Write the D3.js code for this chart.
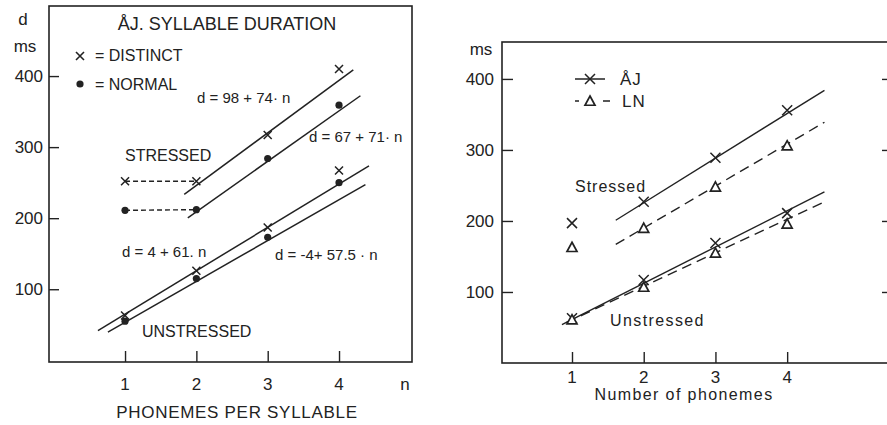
<!DOCTYPE html>
<html>
<head>
<meta charset="utf-8">
<script src="https://cdn.jsdelivr.net/npm/d3@7/dist/d3.min.js"></script>
<style>
  html, body { margin: 0; padding: 0; background: #fff; }
  svg { display: block; }
  text { font-family: "Liberation Sans", Arial, sans-serif; fill: #222; }
</style>
</head>
<body>
<svg id="chart" width="887" height="425"></svg>
<script>
// ---------- Left panel: ÅJ syllable duration ----------
const phonemes = [1, 2, 3, 4];
const yTicks = [100, 200, 300, 400];

// Distinct (×) and normal (●) speech, stressed and unstressed syllables
const distinctStressed   = [252, 252, 317, 410];
const normalStressed     = [211, 212, 284, 359];
const distinctUnstressed = [63, 126, 187, 267];
const normalUnstressed   = [55, 115, 173, 250];

// Fitted lines d = a + b·n and the n-range each one is drawn over
const fitLabels = ["d = 98 + 74· n", "d = 67 + 71· n", "d = 4 + 61. n", "d = -4+ 57.5 · n"];
const fitIntercepts = [98, 67, 4, -4];
const fitSlopes = [74, 71, 61, 57.5];
const fitStart = [1.83, 1.88, 0.62, 0.76];
const fitEnd = [4.2, 4.3, 4.42, 4.37];

// ---------- Right panel: ÅJ vs LN ----------
const ajStressed   = [197, 227, 289, 356];
const lnStressed   = [163, 190, 248, 306];
const ajUnstressed = [63, 117, 169, 211];
const lnUnstressed = [61, 107, 155, 196];

// Trend lines as [n0, d0, n1, d1]
const ajStressedLine   = [1.61, 201, 4.52, 384];
const lnStressedLine   = [1.61, 167, 4.52, 339];
const ajUnstressedLine = [0.86, 54, 4.52, 241];
const lnUnstressedLine = [0.92, 57, 4.52, 227];

const svg = d3.select("#chart");
const ink = "#222";

// ---------- Left panel ----------
const xL = d3.scaleLinear().domain([-0.066, 5.023]).range([49, 412]);
const yL = d3.scaleLinear().domain([-2.4, 498.6]).range([362, 6]);
const L = svg.append("g");

L.append("rect")
  .attr("x", xL.range()[0]).attr("y", yL.range()[1])
  .attr("width", xL.range()[1] - xL.range()[0])
  .attr("height", yL.range()[0] - yL.range()[1])
  .attr("fill", "none").attr("stroke", ink).attr("stroke-width", 1.6);

// y ticks (inward) and labels
const yAxisL = d3.axisRight(yL).tickValues(yTicks).tickSize(10).tickFormat("");
L.append("g").attr("transform", `translate(${xL.range()[0]},0)`).call(yAxisL)
  .call(g => g.select(".domain").remove())
  .call(g => g.selectAll("line").attr("stroke", ink).attr("stroke-width", 1.4));
L.selectAll(".ylab").data(yTicks).join("text")
  .attr("x", 43).attr("y", d => yL(d) + 6)
  .attr("text-anchor", "end").attr("font-size", 17).text(d => d);

// x ticks (inward) and labels
const xAxisL = d3.axisTop(xL).tickValues(phonemes).tickSize(11).tickFormat("");
L.append("g").attr("transform", `translate(0,${yL.range()[0]})`).call(xAxisL)
  .call(g => g.select(".domain").remove())
  .call(g => g.selectAll("line").attr("stroke", ink).attr("stroke-width", 1.4));
L.selectAll(".xlab").data(phonemes).join("text")
  .attr("x", d => xL(d)).attr("y", 390)
  .attr("text-anchor", "middle").attr("font-size", 17).text(d => d);
L.append("text").attr("x", 405).attr("y", 390).attr("text-anchor", "middle")
  .attr("font-size", 17).text("n");
L.append("text").attr("x", 237).attr("y", 418).attr("text-anchor", "middle")
  .attr("font-size", 17).attr("letter-spacing", 0.7).text("PHONEMES PER SYLLABLE");

L.append("text").attr("x", 23).attr("y", 25).attr("text-anchor", "middle")
  .attr("font-size", 17).text("d");
L.append("text").attr("x", 25).attr("y", 52).attr("text-anchor", "middle")
  .attr("font-size", 17).text("ms");
L.append("text").attr("x", 227).attr("y", 30).attr("text-anchor", "middle")
  .attr("font-size", 18).text("ÅJ. SYLLABLE DURATION");

// marker helpers
function cross(g, cx, cy, r, w) {
  g.append("path")
    .attr("d", `M${cx - r},${cy - r}L${cx + r},${cy + r}M${cx - r},${cy + r}L${cx + r},${cy - r}`)
    .attr("stroke", ink).attr("stroke-width", w).attr("fill", "none");
}
function dot(g, cx, cy, r) {
  g.append("circle").attr("cx", cx).attr("cy", cy).attr("r", r).attr("fill", ink);
}
function tri(g, cx, cy, r) {
  g.append("path")
    .attr("d", `M${cx},${cy - r}L${cx + r},${cy + r * 0.85}L${cx - r},${cy + r * 0.85}Z`)
    .attr("stroke", ink).attr("stroke-width", 1.7).attr("fill", "#fff");
}

// legend
cross(L, 80, 56, 4, 1.6);
L.append("text").attr("x", 95).attr("y", 61).attr("font-size", 16).text("= DISTINCT");
dot(L, 80, 84, 3.6);
L.append("text").attr("x", 95).attr("y", 90).attr("font-size", 16).text("= NORMAL");

// regression lines
const lineL = d3.line().x(d => xL(d[0])).y(d => yL(d[1]));
fitIntercepts.forEach((a, i) => {
  const b = fitSlopes[i];
  L.append("path")
    .attr("d", lineL([[fitStart[i], a + b * fitStart[i]], [fitEnd[i], a + b * fitEnd[i]]]))
    .attr("stroke", ink).attr("stroke-width", 1.5).attr("fill", "none");
});

// dashed plateau between n = 1 and n = 2 for stressed syllables
[distinctStressed, normalStressed].forEach(s => {
  L.append("path")
    .attr("d", lineL([[phonemes[0], s[0]], [phonemes[1], s[1]]]))
    .attr("stroke", ink).attr("stroke-width", 1.4).attr("stroke-dasharray", "5,3")
    .attr("fill", "none");
});

// points
phonemes.forEach((n, i) => {
  cross(L, xL(n), yL(distinctStressed[i]), 4, 1.5);
  cross(L, xL(n), yL(distinctUnstressed[i]), 4, 1.5);
  dot(L, xL(n), yL(normalStressed[i]), 3.6);
  dot(L, xL(n), yL(normalUnstressed[i]), 3.6);
});

// annotations
const eqPos = [[197, 103], [309, 142], [122, 257], [275, 260]];
fitLabels.forEach((t, i) => {
  L.append("text").attr("x", eqPos[i][0]).attr("y", eqPos[i][1])
    .attr("font-size", 15).text(t);
});
L.append("text").attr("x", 125).attr("y", 161).attr("font-size", 16).text("STRESSED");
L.append("text").attr("x", 142).attr("y", 337).attr("font-size", 16).text("UNSTRESSED");

// ---------- Right panel ----------
const xR = d3.scaleLinear().domain([0.024, 5.42]).range([502, 889]);
const yR = d3.scaleLinear().domain([0, 452]).range([363, 42]);
const R = svg.append("g");

R.append("rect")
  .attr("x", xR.range()[0]).attr("y", yR.range()[1])
  .attr("width", xR.range()[1] - xR.range()[0])
  .attr("height", yR.range()[0] - yR.range()[1])
  .attr("fill", "none").attr("stroke", ink).attr("stroke-width", 1.6);

R.append("g").attr("transform", `translate(${xR.range()[0]},0)`)
  .call(d3.axisRight(yR).tickValues(yTicks).tickSize(11).tickFormat(""))
  .call(g => g.select(".domain").remove())
  .call(g => g.selectAll("line").attr("stroke", ink).attr("stroke-width", 1.4));
R.append("g").attr("transform", `translate(${xR.range()[1]},0)`)
  .call(d3.axisLeft(yR).tickValues(yTicks).tickSize(7).tickFormat(""))
  .call(g => g.select(".domain").remove())
  .call(g => g.selectAll("line").attr("stroke", ink).attr("stroke-width", 1.4));
R.selectAll(".ylab").data(yTicks).join("text")
  .attr("x", 494).attr("y", d => yR(d) + 6)
  .attr("text-anchor", "end").attr("font-size", 17).text(d => d);

R.append("g").attr("transform", `translate(0,${yR.range()[0]})`)
  .call(d3.axisTop(xR).tickValues(phonemes).tickSize(11).tickFormat(""))
  .call(g => g.select(".domain").remove())
  .call(g => g.selectAll("line").attr("stroke", ink).attr("stroke-width", 1.4));
R.selectAll(".xlab").data(phonemes).join("text")
  .attr("x", d => xR(d)).attr("y", 383)
  .attr("text-anchor", "middle").attr("font-size", 17).text(d => d);
R.append("text").attr("x", 684).attr("y", 400).attr("text-anchor", "middle")
  .attr("font-size", 16).attr("letter-spacing", 1.4).text("Number of phonemes");
R.append("text").attr("x", 481).attr("y", 55).attr("text-anchor", "middle")
  .attr("font-size", 17).text("ms");

// legend
R.append("path").attr("d", "M575,79L605,79").attr("stroke", ink).attr("stroke-width", 1.5);
cross(R, 590, 79, 5, 1.5);
R.append("text").attr("x", 620).attr("y", 85).attr("font-size", 17).attr("letter-spacing", 1).text("ÅJ");
R.append("path").attr("d", "M575,101L579,101M603,101L610,101")
  .attr("stroke", ink).attr("stroke-width", 1.5);
tri(R, 590, 101, 5);
R.append("text").attr("x", 622).attr("y", 107).attr("font-size", 17).attr("letter-spacing", 1).text("LN");

// trend lines
const lineR = d3.line().x(d => xR(d[0])).y(d => yR(d[1]));
[[ajStressedLine, null], [lnStressedLine, "10,6"], [ajUnstressedLine, null], [lnUnstressedLine, "10,6"]]
  .forEach(([s, dash]) => {
    R.append("path")
      .attr("d", lineR([[s[0], s[1]], [s[2], s[3]]]))
      .attr("stroke", ink).attr("stroke-width", 1.4).attr("fill", "none")
      .attr("stroke-dasharray", dash);
  });

// points
phonemes.forEach((n, i) => {
  cross(R, xR(n), yR(ajStressed[i]), 5, 1.5);
  cross(R, xR(n), yR(ajUnstressed[i]), 5, 1.5);
  tri(R, xR(n), yR(lnStressed[i]), 5);
  tri(R, xR(n), yR(lnUnstressed[i]), 5);
});

R.append("text").attr("x", 575).attr("y", 192).attr("font-size", 16)
  .attr("letter-spacing", 1).text("Stressed");
R.append("text").attr("x", 610).attr("y", 326).attr("font-size", 16)
  .attr("letter-spacing", 1.4).text("Unstressed");
</script>
</body>
</html>
